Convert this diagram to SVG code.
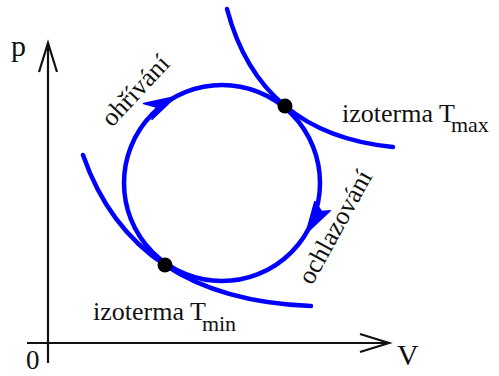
<svg xmlns="http://www.w3.org/2000/svg" width="499" height="376" viewBox="0 0 499 376">
<style>
.axis{fill:none;stroke:#111;stroke-width:2.2}
.blue{fill:none;stroke:#0000ff;stroke-width:4.5;stroke-linecap:round}
.head{fill:#0000ff;stroke:#0000ff;stroke-width:1.5;stroke-linejoin:round}
.dot{fill:#000}
text{font-family:'Liberation Serif','DejaVu Serif','Times New Roman',serif;fill:#111}
.lab{font-size:26px}
.ax{font-size:30px}
.sub{font-size:22px}
</style>
<rect width="499" height="376" fill="#fff"/>
<g id="connectors">
  <g id="axis-p">
    <line class="axis" x1="48" y1="363" x2="48" y2="43"/>
    <polyline class="axis" points="39,72 48,43 57,72"/>
  </g>
  <g id="axis-V">
    <line class="axis" x1="27" y1="343" x2="389" y2="343"/>
    <polyline class="axis" points="360,334 389,343 360,352"/>
  </g>
  <g id="isotherm-max">
    <path class="blue" d="M227,9 Q260,134 393,147"/>
  </g>
  <g id="isotherm-min">
    <path class="blue" d="M83,155 Q133,299.5 311,306"/>
  </g>
  <g id="cycle">
    <circle class="blue" cx="222" cy="183" r="98"/>
    <polygon class="head" points="176,96.5 143.5,103.6 156.2,107 151.9,119.4"/>
    <polygon class="head" points="306,233.5 330.2,210.7 321.5,211.5 314.8,201.5"/>
  </g>
</g>
<g id="point-max"><circle class="dot" cx="285" cy="106" r="7.5"/></g>
<g id="point-min"><circle class="dot" cx="165" cy="265" r="7.5"/></g>
<g id="labels">
  <text class="ax" x="11" y="56" font-family="Liberation Serif, serif">p</text>
  <text class="ax" x="397" y="365" font-family="Liberation Serif, serif">V</text>
  <text x="26" y="369" font-size="27" font-family="Liberation Serif, serif">0</text>
  <text class="lab" x="342" y="122" font-family="Liberation Serif, serif">izoterma T<tspan class="sub" dy="10" dx="-4">max</tspan></text>
  <text class="lab" x="93" y="320" font-family="Liberation Serif, serif">izoterma T<tspan class="sub" dy="11" dx="-4">min</tspan></text>
  <text class="lab" transform="translate(112,128) rotate(-47)" font-family="Liberation Serif, serif">ohřívání</text>
  <text class="lab" transform="translate(312,286) rotate(-61)" font-family="Liberation Serif, serif">ochlazování</text>
</g>
</svg>
